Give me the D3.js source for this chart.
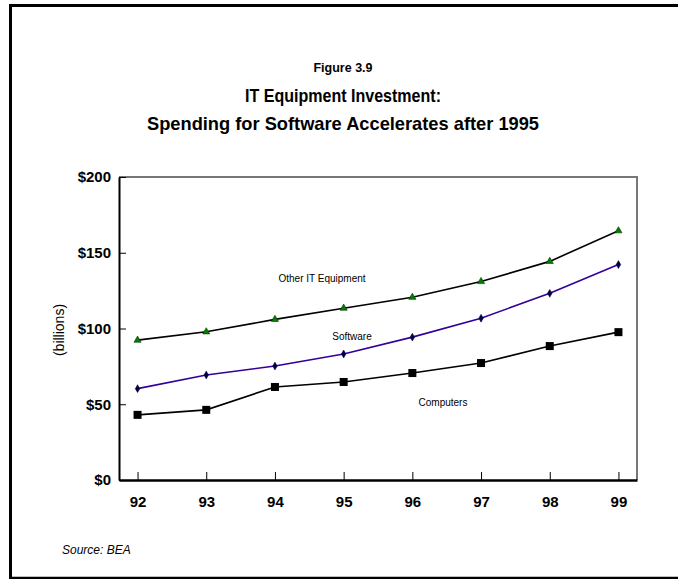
<!DOCTYPE html>
<html><head><meta charset="utf-8">
<script src="https://cdn.jsdelivr.net/npm/d3@7"></script>
<style>body{margin:0;background:#fff}svg{display:block}</style>
</head><body>
<svg id="c" width="678" height="579"></svg>
<script>
const years = ["92","93","94","95","96","97","98","99"];
const otherIT = [92.3, 97.8, 106, 113.4, 120.6, 131, 144.3, 164.5];
const software = [60.3, 69.3, 75.2, 83.2, 94.3, 106.8, 123.2, 142.2];
const computers = [43, 46.3, 61.4, 64.7, 70.6, 77.2, 88.4, 97.6];
const yTicks = [0, 50, 100, 150, 200];

const svg = d3.select("#c");
const font = "Liberation Sans, Arial, sans-serif";
// outer frame
svg.append("path").attr("d","M10.5,579 V5.5 H678").attr("fill","none").attr("stroke","#000").attr("stroke-width",3);
svg.append("line").attr("x1",9).attr("x2",678).attr("y1",578).attr("y2",578).attr("stroke","#000").attr("stroke-width",2.5);

const L=119, R=637, T=177, B=480;
const x = d3.scalePoint().domain(years).range([L,R]).padding(0.27);
const y = d3.scaleLinear().domain([0,200]).range([B,T]);

// plot box top/right
svg.append("path").attr("d",`M${L},${T} H${R} V${B}`).attr("fill","none").attr("stroke","#777").attr("stroke-width",2);

// axes
const gx = svg.append("g").attr("transform",`translate(0,${B})`)
  .call(d3.axisBottom(x).tickSizeInner(-8).tickSizeOuter(0).tickPadding(16));
gx.select(".domain").attr("stroke","#000").attr("stroke-width",2.5);
gx.selectAll(".tick line").attr("stroke","#000").attr("stroke-width",1);
gx.selectAll("text").attr("font-family",font).attr("font-weight","bold").attr("font-size",15).attr("fill","#000");

const gy = svg.append("g").attr("transform",`translate(${L},0)`)
  .call(d3.axisLeft(y).tickValues(yTicks).tickFormat(d=>"$"+d).tickSizeInner(-7).tickSizeOuter(0).tickPadding(8));
gy.select(".domain").attr("stroke","#000").attr("stroke-width",2);
gy.selectAll(".tick line").attr("stroke","#000").attr("stroke-width",1);
gy.selectAll("text").attr("font-family",font).attr("font-weight","bold").attr("font-size",15).attr("fill","#000");

// titles
svg.append("text").attr("x",343).attr("y",72).attr("text-anchor","middle").attr("font-family",font)
  .attr("font-weight","bold").attr("font-size",12.5).text("Figure 3.9");
svg.append("text").attr("x",343).attr("y",102).attr("text-anchor","middle").attr("font-family",font)
  .attr("font-weight","bold").attr("font-size",19).attr("textLength",196).attr("lengthAdjust","spacingAndGlyphs").text("IT Equipment Investment:");
svg.append("text").attr("x",343).attr("y",130).attr("text-anchor","middle").attr("font-family",font)
  .attr("font-weight","bold").attr("font-size",19).attr("textLength",392).attr("lengthAdjust","spacingAndGlyphs").text("Spending for Software Accelerates after 1995");

svg.append("text").attr("transform","translate(64,330) rotate(-90)").attr("text-anchor","middle")
  .attr("font-family",font).attr("font-size",14).text("(billions)");

svg.append("text").attr("x",62).attr("y",554).attr("font-family",font).attr("font-style","italic").attr("font-size",12).text("Source: BEA");

const line = d3.line().x((d,i)=>x(years[i])).y(d=>y(d));
svg.append("path").datum(otherIT).attr("d",line).attr("fill","none").attr("stroke","#000").attr("stroke-width",1.6);
svg.append("path").datum(software).attr("d",line).attr("fill","none").attr("stroke","#330099").attr("stroke-width",1.6);
svg.append("path").datum(computers).attr("d",line).attr("fill","none").attr("stroke","#000").attr("stroke-width",1.6);

const tri = d3.symbol().type(d3.symbolTriangle).size(22);
svg.append("g").selectAll("path").data(otherIT).join("path").attr("d",tri)
  .attr("transform",(d,i)=>`translate(${x(years[i])},${y(d)})`).attr("fill","#008000").attr("stroke","#003300").attr("stroke-width",0.6);
const dia = d3.symbol().type(d3.symbolDiamond).size(18);
svg.append("g").selectAll("path").data(software).join("path").attr("d",dia)
  .attr("transform",(d,i)=>`translate(${x(years[i])},${y(d)})`).attr("fill","#000040").attr("stroke","#000040").attr("stroke-width",0.5);
svg.append("g").selectAll("rect").data(computers).join("rect")
  .attr("x",(d,i)=>x(years[i])-4).attr("y",d=>y(d)-4).attr("width",8).attr("height",8).attr("fill","#000");

// series labels
svg.append("text").attr("x",322).attr("y",282).attr("text-anchor","middle").attr("font-family",font).attr("font-size",10).text("Other IT Equipment");
svg.append("text").attr("x",352).attr("y",340).attr("text-anchor","middle").attr("font-family",font).attr("font-size",10).text("Software");
svg.append("text").attr("x",443).attr("y",406).attr("text-anchor","middle").attr("font-family",font).attr("font-size",10).text("Computers");
</script>
</body></html>
